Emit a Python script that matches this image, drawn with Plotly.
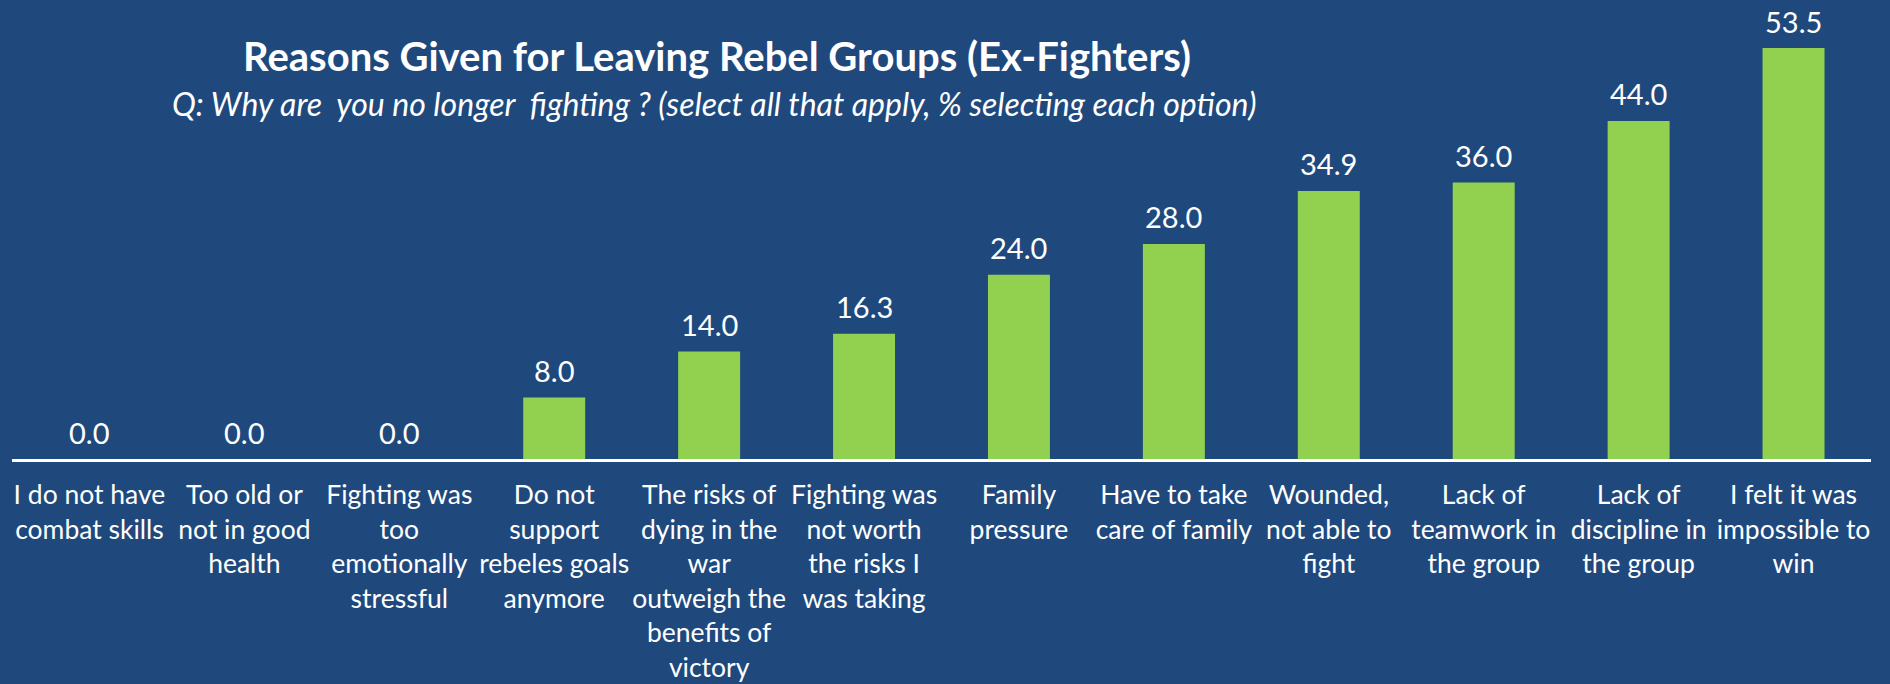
import plotly.graph_objects as go

categories = [
    "I do not have<br>combat skills",
    "Too old or<br>not in good<br>health",
    "Fighting was<br>too<br>emotionally<br>stressful",
    "Do not<br>support<br>rebeles goals<br>anymore",
    "The risks of<br>dying in the<br>war<br>outweigh the<br>benefits of<br>victory",
    "Fighting was<br>not worth<br>the risks I<br>was taking",
    "Family<br>pressure",
    "Have to take<br>care of family",
    "Wounded,<br>not able to<br>fight",
    "Lack of<br>teamwork in<br>the group",
    "Lack of<br>discipline in<br>the group",
    "I felt it was<br>impossible to<br>win",
]
values = [0.0, 0.0, 0.0, 8.0, 14.0, 16.3, 24.0, 28.0, 34.9, 36.0, 44.0, 53.5]

title_text = "Reasons Given for Leaving Rebel Groups (Ex-Fighters)"
subtitle_text = "Q: Why are  you no longer  fighting ? (select all that apply, % selecting each option)"

BG = "#1F497D"
GREEN = "#92D050"
FONT = "Lato, sans-serif"

fig = go.Figure()
fig.add_trace(go.Bar(
    x=list(range(len(categories))),
    y=values,
    marker=dict(color=GREEN, line=dict(width=0)),
    width=0.4,
    hoverinfo="skip",
))

for i, v in enumerate(values):
    fig.add_annotation(
        x=i, y=v, xref="x", yref="y",
        text=f"{v:.1f}", showarrow=False,
        yanchor="middle", yshift=27,
        font=dict(family=FONT, size=29, color="white"),
    )

fig.add_annotation(
    x=(714 - 12) / 1859, y=1 - 104 / 459, xref="paper", yref="paper",
    text=f"<i>{subtitle_text}</i>", showarrow=False,
    xanchor="center", yanchor="middle",
    font=dict(family=FONT, size=32, color="white"),
)

fig.update_layout(
    width=1890, height=684,
    paper_bgcolor=BG, plot_bgcolor=BG,
    margin=dict(l=12, r=19, t=0, b=225, autoexpand=False),
    title=dict(
        text=f"<b>{title_text}</b>",
        x=717 / 1890, xanchor="center",
        y=1 - 57 / 684, yanchor="middle",
        font=dict(family=FONT, size=40, color="white"),
    ),
    showlegend=False,
    xaxis=dict(
        tickmode="array",
        tickvals=list(range(len(categories))),
        ticktext=categories,
        range=[-0.5, len(categories) - 0.5],
        showline=True, linecolor="white", linewidth=2.5,
        showgrid=False, zeroline=False,
        ticks="", tickangle=0,
        ticklabelstandoff=11,
        tickfont=dict(family=FONT, size=26.5, color="white"),
        automargin=False,
        fixedrange=True,
    ),
    yaxis=dict(
        range=[0, 59.75], visible=False, showgrid=False,
        zeroline=False, fixedrange=True,
    ),
)

fig.write_html(
    "out.html",
    config={"displayModeBar": False, "staticPlot": True},
    post_script="document.body.style.margin='0';document.body.style.overflow='hidden';",
)
